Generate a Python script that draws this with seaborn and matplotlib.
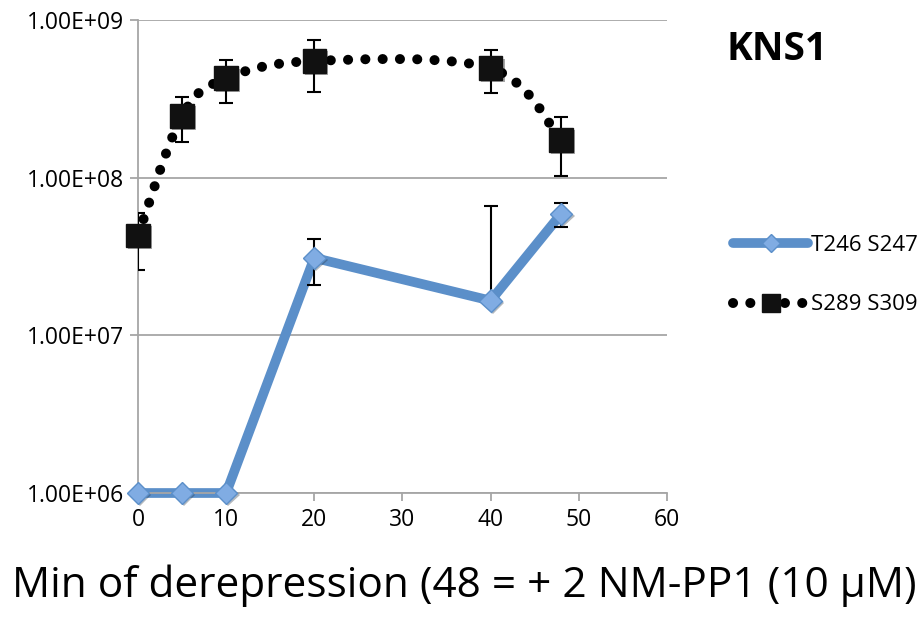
import matplotlib
matplotlib.use("Agg")
import matplotlib.pyplot as plt
import matplotlib.patheffects as pe
from matplotlib.lines import Line2D
from matplotlib.path import Path
from matplotlib.patches import PathPatch
from matplotlib.ticker import NullLocator
import numpy as np
import pandas as pd
import seaborn as sns

# data
minutes = [0, 5, 10, 20, 40, 48]
t246_s247 = [1.0e6, 1.0e6, 1.0e6, 3.1e7, 1.66e7, 5.9e7]
t246_err = [0, 0, 0, 1.0e7, 4.96e7, 1.0e7]
s289_s309 = [4.3e7, 2.46e8, 4.27e8, 5.5e8, 4.94e8, 1.73e8]
s289_err = [1.7e7, 0.78e8, 1.28e8, 2.0e8, 1.5e8, 0.7e8]
series_names = ["T246 S247", "S289 S309"]
y_ticks = [1e6, 1e7, 1e8, 1e9]
y_tick_labels = ["1.00E+06", "1.00E+07", "1.00E+08", "1.00E+09"]
x_ticks = [0, 10, 20, 30, 40, 50, 60]
title = "KNS1"
x_label = "Min of derepression (48 = + 2 NM-PP1 (10 \u03bcM)"

BLUE = "#5b8fc9"
BLUE_FILL = "#80ace3"
GRID = "#a6a6a6"

sns.set_style("white")
plt.rcParams["font.family"] = ["Open Sans", "DejaVu Sans"]
plt.rcParams["text.color"] = "black"

df = pd.DataFrame({"minutes": minutes, "t246": t246_s247, "s289": s289_s309})

fig = plt.figure(figsize=(9.23, 6.29), dpi=100)
ax = fig.add_axes([0.1495, 0.2162, 0.5731, 0.752])
ax.set_yscale("log")

shadow = [pe.SimplePatchShadow(offset=(1.5, -1.5), alpha=0.35), pe.Normal()]


def smooth_path(xs, ys):
    # Excel style smoothed line: Catmull-Rom bezier in (x, log y) space
    pts = np.column_stack([xs, np.log10(ys)])
    verts = [pts[0]]
    codes = [Path.MOVETO]
    n = len(pts)
    for i in range(n - 1):
        p0 = pts[max(i - 1, 0)]
        p1 = pts[i]
        p2 = pts[i + 1]
        p3 = pts[min(i + 2, n - 1)]
        c1 = p1 + (p2 - p0) / 6
        c2 = p2 - (p3 - p1) / 6
        verts += [c1, c2, p2]
        codes += [Path.CURVE4] * 3
    verts = np.array(verts)
    verts[:, 1] = 10 ** verts[:, 1]
    return Path(verts, codes)


dot_style = (0, (0.01, 1.72))
curve = PathPatch(smooth_path(minutes, s289_s309), transform=ax.transData, fill=False,
                  edgecolor="black", linewidth=7.2, linestyle=dot_style,
                  capstyle="round", zorder=2, clip_on=False)
ax.add_patch(curve)

# blue line
sns.lineplot(data=df, x="minutes", y="t246", color=BLUE, linewidth=7, ax=ax,
             zorder=2, clip_on=False, legend=False)

# error bars (lower bar dropped where it would go below zero)
t_low = [e if e < v else 0 for e, v in zip(t246_err, t246_s247)]
ax.errorbar(minutes, t246_s247, yerr=[t_low, t246_err], fmt="none", ecolor="black",
            elinewidth=1.5, capsize=5, capthick=1.5, zorder=3)
ax.errorbar(minutes, s289_s309, yerr=[s289_err, s289_err], fmt="none", ecolor="black",
            elinewidth=1.5, capsize=5, capthick=1.5, zorder=3)

# markers
ax.plot(minutes, t246_s247, linestyle="none", marker="D", markersize=11.5,
        markerfacecolor=BLUE_FILL, markeredgecolor=BLUE, markeredgewidth=1,
        zorder=4, clip_on=False, path_effects=shadow)
ax.plot(minutes, s289_s309, linestyle="none", marker="s", markersize=17,
        markerfacecolor="#111111", markeredgecolor="#111111",
        zorder=4, clip_on=False, path_effects=shadow)

ax.set_xlim(0, 60)
ax.set_ylim(1e6, 1e9)
ax.set_xticks(x_ticks)
ax.set_yticks(y_ticks)
ax.set_yticklabels(y_tick_labels)
ax.yaxis.set_minor_locator(NullLocator())
ax.tick_params(axis="both", labelsize=16.5, colors=GRID, labelcolor="black",
               length=6, width=1.3, direction="out", left=True, bottom=True)
ax.tick_params(axis="y", pad=4)
ax.tick_params(axis="x", pad=5)
ax.grid(axis="y", color=GRID, linewidth=1.3)
ax.grid(axis="x", visible=False)
for side in ["top", "right"]:
    ax.spines[side].set_visible(False)
for side in ["left", "bottom"]:
    ax.spines[side].set_color(GRID)
    ax.spines[side].set_linewidth(1.3)
ax.set_xlabel("")
ax.set_ylabel("")

fig.text(727 / 923, 1 - 49 / 629, title, fontsize=28, fontweight="bold", ha="left", va="center")
fig.text(12 / 923, 1 - 597 / 629, x_label, fontsize=30.5, ha="left", va="baseline")

handles = [
    Line2D([], [], color=BLUE, linewidth=7, solid_capstyle="round", marker="D",
           markersize=9, markerfacecolor=BLUE_FILL, markeredgecolor=BLUE),
    Line2D([], [], color="black", linewidth=7.2, linestyle=dot_style,
           dash_capstyle="round", marker="s", markersize=13,
           markerfacecolor="#111111", markeredgecolor="#111111"),
]
fig.legend(handles, series_names, loc="center left", bbox_to_anchor=(724 / 923, 1 - 275 / 629),
           frameon=False, fontsize=16, handlelength=3.4, handletextpad=0.1,
           labelspacing=1.75, borderaxespad=0)

fig.savefig("out.png", dpi=100)
